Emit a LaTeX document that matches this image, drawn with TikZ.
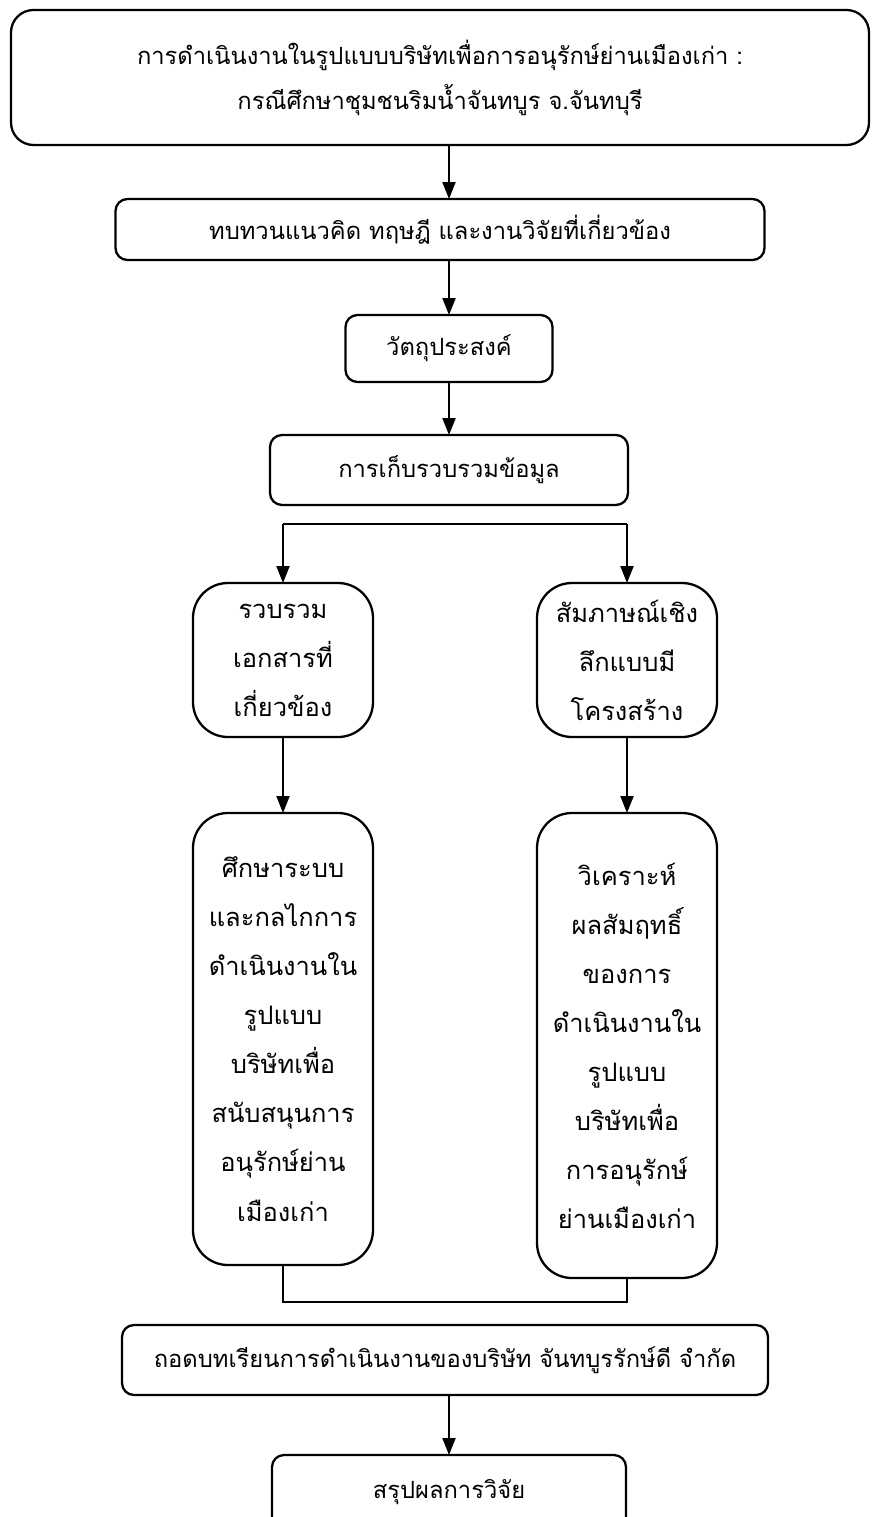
\documentclass[tikz,border=0pt]{standalone}
\usepackage{fontspec}
\newfontfamily\thaifont[Script=Thai]{Loma}
\usepackage{tikz}
\usetikzlibrary{positioning, arrows.meta}
\tikzstyle{arrow} = [line width=1.2pt,-{Triangle[length=0.34cm,width=0.26cm]}]
\tikzstyle{link} = [line width=0.6pt]
\tikzstyle{topbox} = [rectangle, rounded corners=0.45cm, line width=1.3pt, outer sep=0pt, draw=black, minimum width=17.16cm, minimum height=2.7cm, align=center, font=\thaifont\fontsize{13.5pt}{25.6pt}\selectfont]
\tikzstyle{stepbox} = [rectangle, rounded corners=0.24cm, line width=1.3pt, outer sep=0pt, draw=black, minimum height=1.3cm, align=center, font=\thaifont\fontsize{13.5pt}{25pt}\selectfont]
\tikzstyle{colbox} = [rectangle, rounded corners=0.7cm, line width=1.3pt, outer sep=0pt, draw=black, minimum width=3.6cm, align=center, font=\thaifont\fontsize{14.5pt}{27.9pt}\selectfont]

\begin{document}
\begin{tikzpicture}
    \useasboundingbox (0,0) rectangle (17.5,-30.34);
    \node (title) [topbox] at (8.8,-1.55) {การดำเนินงานในรูปแบบบริษัทเพื่อการอนุรักษ์ย่านเมืองเก่า :\\กรณีศึกษาชุมชนริมน้ำจันทบูร จ.จันทบุรี};
    \node (review) [stepbox, minimum width=12.98cm, minimum height=1.22cm, below=1.08cm of title] {ทบทวนแนวคิด ทฤษฎี และงานวิจัยที่เกี่ยวข้อง};
    \node (aim) [stepbox, minimum width=4.14cm, minimum height=1.34cm, below=1.1cm of review, xshift=0.18cm] {วัตถุประสงค์};
    \node (collect) [stepbox, minimum width=7.16cm, minimum height=1.4cm, below=1.06cm of aim] {การเก็บรวบรวมข้อมูล};
    \node (docs) [colbox, minimum height=3.08cm, below=1.56cm of collect, xshift=-3.32cm] {รวบรวม\\เอกสารที่\\เกี่ยวข้อง};
    \node (interview) [colbox, minimum height=3.08cm, below=1.56cm of collect, xshift=3.56cm] {สัมภาษณ์เชิง\\ลึกแบบมี\\โครงสร้าง};
    \node (study) [colbox, minimum height=9.04cm, below=1.52cm of docs] {ศึกษาระบบ\\และกลไกการ\\ดำเนินงานใน\\รูปแบบ\\บริษัทเพื่อ\\สนับสนุนการ\\อนุรักษ์ย่าน\\เมืองเก่า};
    \node (analyze) [colbox, minimum height=9.3cm, below=1.52cm of interview] {วิเคราะห์\\ผลสัมฤทธิ์\\ของการ\\ดำเนินงานใน\\รูปแบบ\\บริษัทเพื่อ\\การอนุรักษ์\\ย่านเมืองเก่า};
    \node (lesson) [stepbox, minimum width=12.92cm, minimum height=1.4cm, below=1.2cm of study, xshift=3.24cm] {ถอดบทเรียนการดำเนินงานของบริษัท จันทบูรรักษ์ดี จำกัด};
    \node (summary) [stepbox, minimum width=7.08cm, minimum height=1.5cm, below=1.2cm of lesson, xshift=0.08cm] {สรุปผลการวิจัย};
    \coordinate (fork) at ([yshift=-0.38cm]collect.south);
    \coordinate (join) at ([yshift=-0.74cm]study.south);
    \draw [arrow] (title.south -| aim) -- (review.north -| aim);
    \draw [arrow] (review.south -| aim) -- (aim);
    \draw [arrow] (aim) -- (collect);
    \draw [link] (fork -| docs) -- (fork -| interview);
    \draw [arrow] (fork -| docs) -- (docs);
    \draw [arrow] (fork -| interview) -- (interview);
    \draw [arrow] (docs) -- (study);
    \draw [arrow] (interview) -- (analyze);
    \draw [link] (study) -- (join) -- (join -| analyze) -- (analyze);
    \draw [arrow] (lesson.south -| summary) -- (summary);
\end{tikzpicture}
\end{document}
